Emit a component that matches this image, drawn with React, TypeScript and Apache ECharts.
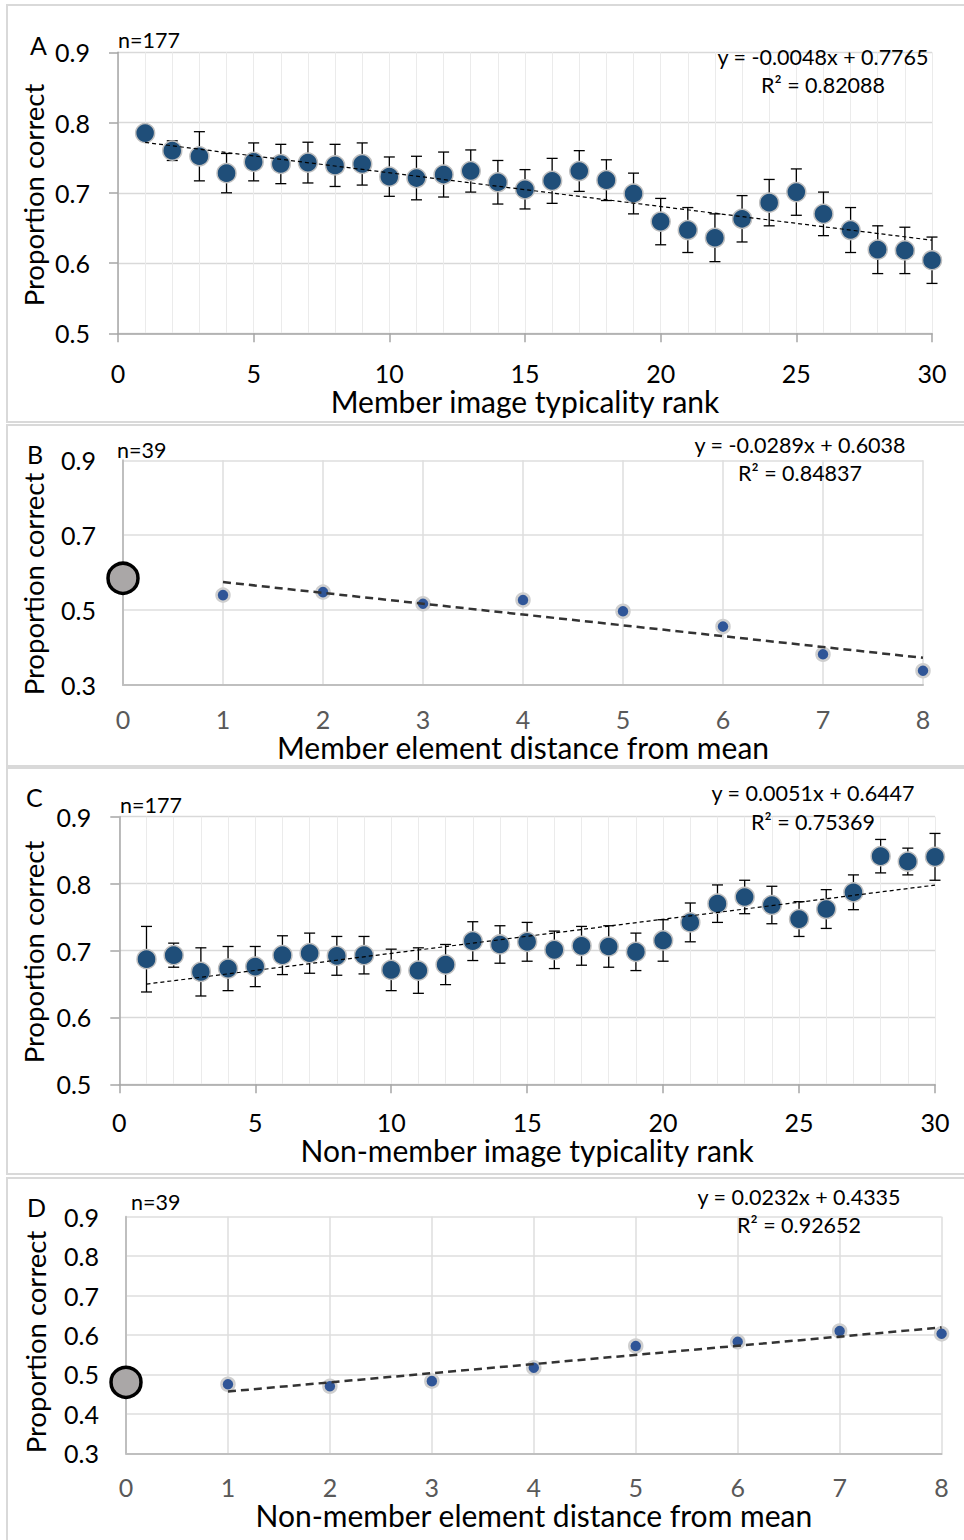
import React, { useEffect, useRef } from "react";
import * as echarts from "echarts";

// ---------- DATA ----------
const rankX = [1, 2, 3, 4, 5, 6, 7, 8, 9, 10, 11, 12, 13, 14, 15, 16, 17, 18, 19, 20, 21, 22, 23, 24, 25, 26, 27, 28, 29, 30];
const memberRankMean = [0.785, 0.760, 0.752, 0.728, 0.744, 0.741, 0.743, 0.739, 0.741, 0.723, 0.721, 0.726, 0.731, 0.715, 0.705, 0.717, 0.731, 0.718, 0.699, 0.659, 0.647, 0.636, 0.663, 0.686, 0.701, 0.670, 0.647, 0.619, 0.618, 0.604];
const memberRankErr = [0.010, 0.014, 0.035, 0.028, 0.027, 0.028, 0.029, 0.030, 0.030, 0.028, 0.031, 0.032, 0.030, 0.031, 0.028, 0.032, 0.029, 0.029, 0.029, 0.033, 0.032, 0.034, 0.033, 0.033, 0.033, 0.031, 0.032, 0.034, 0.033, 0.033];
const nonMemberRankMean = [0.687, 0.693, 0.668, 0.673, 0.676, 0.693, 0.696, 0.692, 0.693, 0.671, 0.670, 0.679, 0.714, 0.709, 0.713, 0.701, 0.707, 0.706, 0.698, 0.715, 0.742, 0.770, 0.780, 0.768, 0.747, 0.762, 0.787, 0.841, 0.833, 0.840];
const nonMemberRankErr = [0.049, 0.018, 0.036, 0.033, 0.030, 0.029, 0.030, 0.029, 0.028, 0.031, 0.034, 0.030, 0.029, 0.028, 0.029, 0.028, 0.029, 0.031, 0.028, 0.031, 0.029, 0.028, 0.025, 0.028, 0.026, 0.029, 0.026, 0.025, 0.020, 0.035];

const distX = [1, 2, 3, 4, 5, 6, 7, 8];
const memberDistMean = [0.540, 0.548, 0.517, 0.527, 0.497, 0.456, 0.382, 0.338];
const memberDistBase = 0.585;
const nonMemberDistMean = [0.475, 0.470, 0.483, 0.517, 0.572, 0.583, 0.610, 0.603];
const nonMemberDistBase = 0.48;

// regression lines (slope, intercept) as printed
const trendA = [-0.0048, 0.7765];
const trendB = [-0.0289, 0.6038];
const trendC = [0.0051, 0.6447];
const trendD = [0.0232, 0.4335];

const eqA = ["y = -0.0048x + 0.7765", "R² = 0.82088"];
const eqB = ["y = -0.0289x + 0.6038", "R² = 0.84837"];
const eqC = ["y = 0.0051x + 0.6447", "R² = 0.75369"];
const eqD = ["y = 0.0232x + 0.4335", "R² = 0.92652"];

const Y_NAME = "Proportion correct";

const FONT = "Lato, 'Open Sans', sans-serif";
const NAME_FS = 30;
const YNAME_FS = 27.5;
const TICK_FS = 25;

export default function App() {
  const ref = useRef<HTMLDivElement>(null);
  useEffect(() => {
    if (!ref.current) return;
    const chart = echarts.init(ref.current, null, { renderer: "svg" });

    const grids = [
      { left: 118, top: 52.3, width: 814, height: 281 },
      { left: 123, top: 460.3, width: 800, height: 224.7 },
      { left: 119.3, top: 816.7, width: 815.7, height: 267.6 },
      { left: 126, top: 1216.7, width: 815.6, height: 236.6 },
    ];

    const rankXAxis = (gi: number, name: string, gap: number, margin: number) => ({
      type: "value", gridIndex: gi, min: 0, max: 30, interval: 5,
      name, nameLocation: "middle", nameGap: gap,
      nameTextStyle: { fontFamily: FONT, fontSize: NAME_FS, color: "#000" },
      axisLine: { show: true, lineStyle: { color: "#a6a6a6", width: 1.5 } },
      axisTick: { show: true, length: 9, lineStyle: { color: "#a6a6a6", width: 1.5 } },
      axisLabel: { fontFamily: FONT, fontSize: TICK_FS, color: "#000", margin },
      splitLine: { show: true, lineStyle: { color: "#ebebeb", width: 1 } },
      minorTick: { show: false, splitNumber: 5 },
      minorSplitLine: { show: true, lineStyle: { color: "#ebebeb", width: 1 } },
    });
    const rankYAxis = (gi: number) => ({
      type: "value", gridIndex: gi, min: 0.5, max: 0.9, interval: 0.1,
      axisLine: { show: true, lineStyle: { color: "#a6a6a6", width: 1.5 } },
      axisTick: { show: true, length: 9, lineStyle: { color: "#a6a6a6", width: 1.5 } },
      axisLabel: { fontFamily: FONT, fontSize: TICK_FS, color: "#000", margin: 28, formatter: (v: number) => v.toFixed(1) },
      splitLine: { show: true, lineStyle: { color: "#d9d9d9", width: 1.3 } },
    });
    const distXAxis = (gi: number, name: string, gap: number) => ({
      type: "value", gridIndex: gi, min: 0, max: 8, interval: 1,
      name, nameLocation: "middle", nameGap: gap,
      nameTextStyle: { fontFamily: FONT, fontSize: NAME_FS, color: "#000" },
      axisLine: { show: true, lineStyle: { color: "#bfbfbf", width: 2 } },
      axisTick: { show: false },
      axisLabel: { fontFamily: FONT, fontSize: TICK_FS, color: "#595959", margin: 21 },
      splitLine: { show: true, lineStyle: { color: "#dedede", width: 1.5 } },
    });
    const distYAxis = (gi: number, min: number, interval: number) => ({
      type: "value", gridIndex: gi, min, max: 0.9, interval,
      axisLine: { show: true, lineStyle: { color: "#bfbfbf", width: 2 } },
      axisTick: { show: false },
      axisLabel: { fontFamily: FONT, fontSize: TICK_FS, color: "#000", margin: 27, formatter: (v: number) => v.toFixed(1) },
      splitLine: { show: true, lineStyle: { color: "#dedede", width: 1.5 } },
    });

    const errSeries = (gi: number, xs: number[], m: number[], e: number[]) => ({
      type: "custom", xAxisIndex: gi, yAxisIndex: gi, z: 2, clip: false,
      data: xs.map((x, i) => [x, m[i] - e[i], m[i] + e[i]]),
      encode: { x: 0, y: [1, 2] },
      renderItem: (params: any, api: any) => {
        const x = api.value(0);
        const lo = api.coord([x, api.value(1)]);
        const hi = api.coord([x, api.value(2)]);
        const w = 5.5;
        const st = { stroke: "#000", lineWidth: 1.3 };
        return {
          type: "group",
          children: [
            { type: "line", shape: { x1: lo[0], y1: lo[1], x2: hi[0], y2: hi[1] }, style: st },
            { type: "line", shape: { x1: lo[0] - w, y1: lo[1], x2: lo[0] + w, y2: lo[1] }, style: st },
            { type: "line", shape: { x1: hi[0] - w, y1: hi[1], x2: hi[0] + w, y2: hi[1] }, style: st },
          ],
        };
      },
    });
    const bigDots = (gi: number, xs: number[], m: number[]) => ({
      type: "scatter", xAxisIndex: gi, yAxisIndex: gi, z: 3, clip: false,
      symbolSize: 19,
      itemStyle: { color: "#1f4e79", borderColor: "#bfbfbf", borderWidth: 1.5, opacity: 1 },
      data: xs.map((x, i) => [x, m[i]]),
    });
    const smallDots = (gi: number, xs: number[], m: number[]) => ({
      type: "scatter", xAxisIndex: gi, yAxisIndex: gi, z: 3, clip: false,
      symbolSize: 13,
      itemStyle: { color: "#2f5597", borderColor: "#cfcfcf", borderWidth: 2.5, opacity: 1 },
      data: xs.map((x, i) => [x, m[i]]),
    });
    const baseDot = (gi: number, v: number) => ({
      type: "scatter", xAxisIndex: gi, yAxisIndex: gi, z: 5, clip: false,
      symbolSize: 30,
      itemStyle: { color: "#aaa7a7", borderColor: "#000", borderWidth: 3.5, opacity: 1 },
      data: [[0, v]],
    });
    const trend = (gi: number, t: number[], x0: number, x1: number, thick: boolean) => ({
      type: "line", xAxisIndex: gi, yAxisIndex: gi, z: 4, symbol: "none", silent: true,
      lineStyle: thick
        ? { color: "#333", width: 2.5, type: [8, 5] }
        : { color: "#000", width: 1.2, type: [4, 3] },
      data: [[x0, t[0] * x0 + t[1]], [x1, t[0] * x1 + t[1]]],
    });

    const txt = (x: number, y: number, text: string, size: number, align = "left") => ({
      type: "text", x, y, z: 10,
      style: { text, fontFamily: FONT, fontSize: size, fill: "#000", align, verticalAlign: "middle" },
    });
    const yName = (x: number, y: number) => ({
      type: "text", x, y, z: 10, rotation: Math.PI / 2,
      style: { text: Y_NAME, fontFamily: FONT, fontSize: YNAME_FS, fill: "#000", align: "center", verticalAlign: "middle" },
    });
    const frame = (y: number, h: number) => ({
      type: "rect", shape: { x: 7, y, width: 980, height: h }, z: -1,
      style: { fill: "none", stroke: "#d9d9d9", lineWidth: 2 },
    });

    chart.setOption({
      animation: false,
      grid: grids,
      xAxis: [
        rankXAxis(0, "Member image typicality rank", 53, 27),
        distXAxis(1, "Member element distance from mean", 47),
        rankXAxis(2, "Non-member image typicality rank", 51, 25),
        distXAxis(3, "Non-member element distance from mean", 47),
      ],
      yAxis: [
        rankYAxis(0),
        distYAxis(1, 0.3, 0.2),
        rankYAxis(2),
        distYAxis(3, 0.3, 0.1),
      ],
      series: [
        errSeries(0, rankX, memberRankMean, memberRankErr),
        bigDots(0, rankX, memberRankMean),
        trend(0, trendA, 1, 30, false),
        smallDots(1, distX, memberDistMean),
        baseDot(1, memberDistBase),
        trend(1, trendB, 1, 8, true),
        errSeries(2, rankX, nonMemberRankMean, nonMemberRankErr),
        bigDots(2, rankX, nonMemberRankMean),
        trend(2, trendC, 1, 30, false),
        smallDots(3, distX, nonMemberDistMean),
        baseDot(3, nonMemberDistBase),
        trend(3, trendD, 1, 8, true),
      ],
      graphic: [
        frame(5, 417),
        frame(425, 341),
        frame(768, 406),
        frame(1178, 380),
        yName(33, 195),
        yName(33, 584),
        yName(33, 952),
        yName(35, 1342),
        txt(30, 45, "A", 25),
        txt(118, 40, "n=177", 21.5),
        txt(823, 57, eqA[0], 21.5, "center"),
        txt(823, 85, eqA[1], 21.5, "center"),
        txt(27, 454, "B", 25),
        txt(117, 450, "n=39", 21.5),
        txt(800, 445, eqB[0], 21.5, "center"),
        txt(800, 473, eqB[1], 21.5, "center"),
        txt(26, 797, "C", 25),
        txt(120, 805, "n=177", 21.5),
        txt(813, 793, eqC[0], 21.5, "center"),
        txt(813, 822, eqC[1], 21.5, "center"),
        txt(27, 1207, "D", 25),
        txt(131, 1202, "n=39", 21.5),
        txt(799, 1197, eqD[0], 21.5, "center"),
        txt(799, 1225, eqD[1], 21.5, "center"),
      ],
    });
    return () => chart.dispose();
  }, []);
  return <div ref={ref} style={{ position: "absolute", left: 0, top: 0, width: 964, height: 1540, background: "#fff" }} />;
}
